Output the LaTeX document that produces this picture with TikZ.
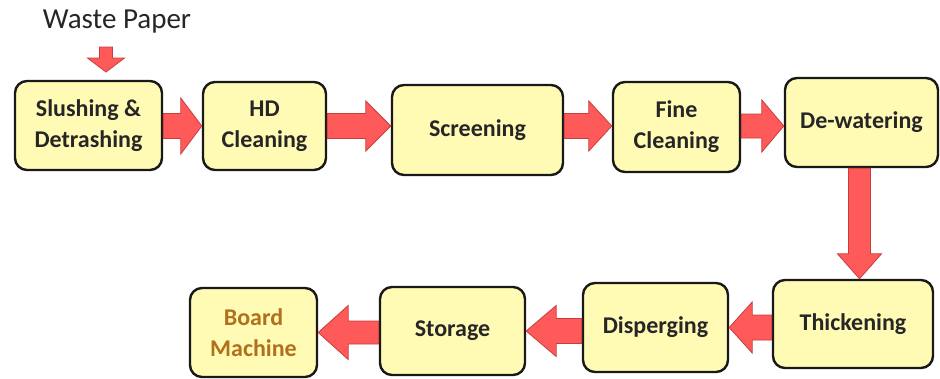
\documentclass[tikz,border=0pt]{standalone}
\usepackage{fontspec}
\setmainfont{Carlito}
\usetikzlibrary{calc}
\definecolor{boxfill}{HTML}{FFFBB5}
\definecolor{arrfill}{HTML}{FF5A5A}
\definecolor{arrline}{HTML}{C83C3C}
\definecolor{txt}{HTML}{262626}
\definecolor{boardtxt}{HTML}{B0701C}
% #1 tail, #2 tip, #3 head length, #4 shaft half width, #5 head half width
\newcommand\blockarr[5]{%
  \coordinate (ba-t) at #1; \coordinate (ba-p) at #2;
  \coordinate (ba-h) at ($(ba-p)!#3!(ba-t)$);
  \filldraw[flowarrow] ($(ba-t)!#4!90:(ba-p)$) -- ($(ba-h)!#4!90:(ba-p)$)
    -- ($(ba-h)!#5!90:(ba-p)$) -- (ba-p) -- ($(ba-h)!#5!-90:(ba-p)$)
    -- ($(ba-h)!#4!-90:(ba-p)$) -- ($(ba-t)!#4!-90:(ba-p)$) -- cycle;
}
\begin{document}
\begin{tikzpicture}[x=1pt,y=-1pt,
  stagebox/.style={draw=black!90, line width=2.4pt, fill=boxfill, rounded corners=12pt,
    align=center, font=\fontsize{24}{31}\selectfont\bfseries, text=txt, inner sep=2pt},
  flowarrow/.style={fill=arrfill, draw=arrline, line width=0.8pt, line join=miter}]
\useasboundingbox[fill=white] (0,0) rectangle (940,378);

\node[font=\fontsize{29}{32}\selectfont, text=black!85] (waste) at (117,22) {Waste Paper};

\node[stagebox, minimum width=147pt, minimum height=89pt] (slush) at (88.5,125.5) {Slushing \&\\Detrashing};
\node[stagebox, minimum width=123pt, minimum height=88pt] (hd) at (264.5,126) {HD\\Cleaning};
\node[stagebox, minimum width=171pt, minimum height=90pt] (scr) at (477.5,130) {Screening};
\node[stagebox, minimum width=127pt, minimum height=90pt] (fine) at (676.5,127) {Fine\\Cleaning};
\node[stagebox, minimum width=153pt, minimum height=89pt] (dew) at (861.5,122.5) {De-watering};

\node[stagebox, minimum width=160pt, minimum height=88pt] (thick) at (853,324) {Thickening};
\node[stagebox, minimum width=145pt, minimum height=89pt] (disp) at (655.5,327.5) {Disperging};
\node[stagebox, minimum width=145pt, minimum height=88pt] (stor) at (452.5,331) {Storage};
\node[stagebox, minimum width=127pt, minimum height=89pt, text=boardtxt] (board) at (253.5,332.5) {Board\\Machine};

\coordinate (row1) at (0,126);
\coordinate (wpTail) at (106,47);
\coordinate (wpTip) at (106,72);

\blockarr{(wpTail)}{(wpTip)}{14pt}{6.5pt}{18.5pt}
\blockarr{(slush.east |- row1)}{(hd.west |- row1)}{21pt}{12.5pt}{28pt}
\blockarr{(hd.east |- row1)}{(scr.west |- row1)}{25pt}{12.5pt}{25pt}
\blockarr{(scr.east |- row1)}{(fine.west |- row1)}{23pt}{12.5pt}{25pt}
\blockarr{(fine.east |- row1)}{(dew.west |- row1)}{22pt}{12pt}{26pt}
\blockarr{($(dew.south)+(-2,0)$)}{($(dew.south |- thick.north)+(-2,0)$)}{25pt}{11pt}{22pt}
\blockarr{(thick.west |- disp.center)}{(disp.east)}{23pt}{12.5pt}{25.5pt}
\blockarr{(disp.west |- stor.center)}{(stor.east)}{30pt}{12.5pt}{25.5pt}
\blockarr{(stor.west |- board.center)}{(board.east)}{30pt}{11.5pt}{27pt}
\end{tikzpicture}
\end{document}
